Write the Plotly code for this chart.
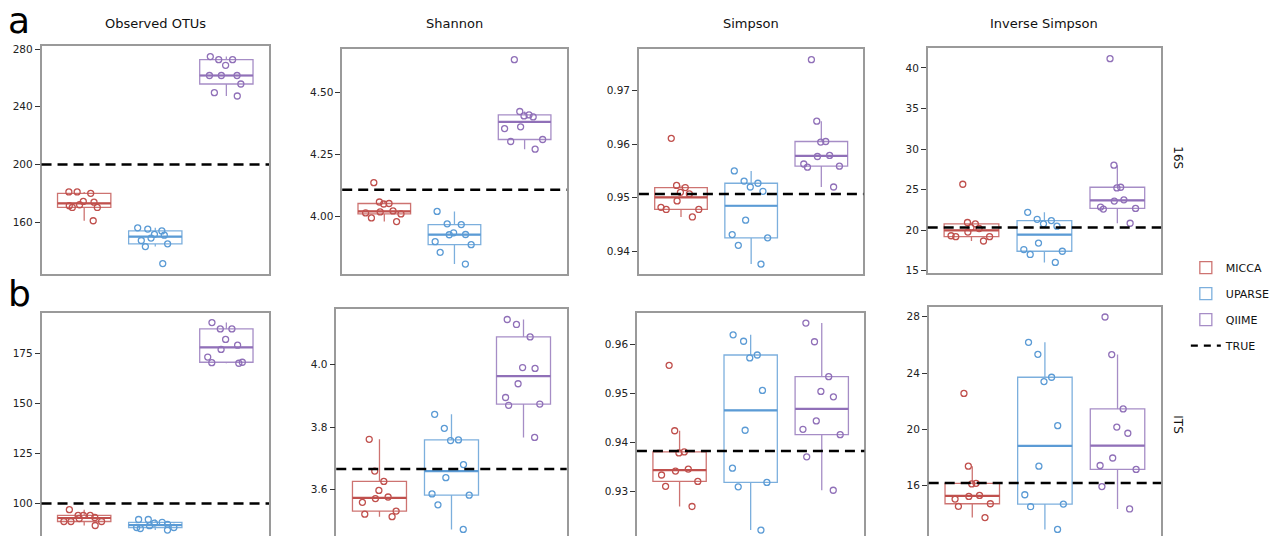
import numpy as np
import plotly.graph_objects as go

# ---------------- data ----------------
methods = ["MICCA", "UPARSE", "QIIME"]
metrics = ["Observed OTUs", "Shannon", "Simpson", "Inverse Simpson"]
regions = ["16S", "ITS"]

# 16S
obs16_micca = [181.0, 180.0, 181.0, 170.2, 172.1, 173.9, 174.4, 170.2, 171.4, 161.0]
obs16_uparse = [156.1, 155.2, 153.9, 151.6, 151.0, 149.0, 147.3, 145.0, 143.1, 131.3]
obs16_qiime = [272.7, 272.7, 274.8, 268.8, 261.7, 261.7, 261.7, 255.8, 249.8, 247.5]

sha16_micca = [4.053, 4.059, 4.051, 4.137, 3.995, 3.980, 4.023, 4.019, 4.015, 4.011]
sha16_uparse = [4.021, 3.968, 3.971, 3.935, 3.927, 3.928, 3.887, 3.899, 3.856, 3.809]
sha16_qiime = [4.633, 4.402, 4.406, 4.424, 4.410, 4.362, 4.355, 4.311, 4.272, 4.303]

sim16_micca = [0.9611, 0.9519, 0.9523, 0.9510, 0.9507, 0.9494, 0.9478, 0.9482, 0.9478, 0.9464]
sim16_uparse = [0.9550, 0.9520, 0.9527, 0.9531, 0.9512, 0.9458, 0.9425, 0.9431, 0.9411, 0.9376]
sim16_qiime = [0.9758, 0.9643, 0.9605, 0.9604, 0.9579, 0.9577, 0.9563, 0.9557, 0.9559, 0.9520]

inv16_micca = [25.66, 20.78, 20.94, 19.19, 19.19, 18.66, 19.76, 19.31, 20.30, 20.20]
inv16_uparse = [22.20, 20.78, 20.49, 21.18, 21.34, 18.41, 17.40, 17.61, 17.00, 16.02]
inv16_qiime = [41.15, 28.01, 25.21, 25.29, 23.74, 23.58, 22.85, 22.68, 22.60, 20.85]

# ITS
obsits_micca = [94.0, 94.0, 96.9, 94.0, 91.0, 91.0, 89.0, 91.0, 92.5, 93.0]
obsits_uparse = [88.0, 86.7, 88.0, 92.0, 90.6, 88.9, 90.2, 92.0, 87.5, 89.6]
obsits_qiime = [190.2, 187.0, 187.0, 181.8, 178.9, 176.8, 173.0, 169.9, 170.2, 170.4]

shaits_micca = [3.761, 3.659, 3.626, 3.597, 3.571, 3.576, 3.559, 3.521, 3.513, 3.531]
shaits_uparse = [3.841, 3.796, 3.759, 3.757, 3.680, 3.638, 3.586, 3.582, 3.551, 3.472]
shaits_qiime = [4.145, 4.129, 4.089, 3.991, 3.988, 3.939, 3.895, 3.874, 3.870, 3.767]

simits_micca = [0.9557, 0.9424, 0.9379, 0.9381, 0.9346, 0.9342, 0.9334, 0.9311, 0.9321, 0.9270]
simits_uparse = [0.9619, 0.9606, 0.9572, 0.9578, 0.9506, 0.9425, 0.9348, 0.9310, 0.9319, 0.9222]
simits_qiime = [0.9643, 0.9605, 0.9534, 0.9504, 0.9493, 0.9444, 0.9427, 0.9416, 0.9371, 0.9303]

invits_micca = [22.55, 17.38, 16.16, 16.12, 15.23, 15.30, 15.04, 14.71, 14.53, 13.73]
invits_uparse = [26.18, 25.33, 23.39, 23.70, 20.26, 17.38, 15.35, 14.69, 14.50, 12.89]
invits_qiime = [27.98, 25.31, 21.45, 20.16, 19.72, 17.96, 17.15, 17.43, 15.93, 14.34]

true_16s = [200, 4.108, 0.9507, 20.33]
true_its = [100, 3.666, 0.9383, 16.19]

ticks_16s = [[160, 200, 240, 280], [4.00, 4.25, 4.50], [0.94, 0.95, 0.96, 0.97], [15, 20, 25, 30, 35, 40]]
ticklabels_16s = [["160", "200", "240", "280"], ["4.00", "4.25", "4.50"],
                  ["0.94", "0.95", "0.96", "0.97"], ["15", "20", "25", "30", "35", "40"]]
ticks_its = [[100, 125, 150, 175], [3.6, 3.8, 4.0], [0.93, 0.94, 0.95, 0.96], [16, 20, 24, 28]]
ticklabels_its = [["100", "125", "150", "175"], ["3.6", "3.8", "4.0"],
                  ["0.93", "0.94", "0.95", "0.96"], ["16", "20", "24", "28"]]

data_16s = [
    [obs16_micca, obs16_uparse, obs16_qiime],
    [sha16_micca, sha16_uparse, sha16_qiime],
    [sim16_micca, sim16_uparse, sim16_qiime],
    [inv16_micca, inv16_uparse, inv16_qiime],
]
data_its = [
    [obsits_micca, obsits_uparse, obsits_qiime],
    [shaits_micca, shaits_uparse, shaits_qiime],
    [simits_micca, simits_uparse, simits_qiime],
    [invits_micca, invits_uparse, invits_qiime],
]

# ---------------- styling / layout ----------------
W, H = 1275, 539
colors = ["#C0504D", "#5B9BD5", "#9070B8"]
line_rgba = ["rgba(192,80,77,0.8)", "rgba(91,155,213,0.8)", "rgba(144,112,184,0.8)"]

# panel pixel boxes: (left, right, top, bottom)
panel_px = [
    (42, 272, 43, 274), (346, 573, 47, 274), (646, 873, 47, 274), (938, 1174, 46, 273),
    (42, 272, 313, 539), (340, 573, 309, 539), (644, 874, 313, 539), (939, 1174, 307, 539),
]
yranges = [
    [124.1, 282.5], [3.769, 4.674], [0.93575, 0.9777], [14.72, 42.4],
    [83.76, 195.2], [3.451, 4.18], [0.9210, 0.96644], [12.42, 28.72],
]
BOXW = 0.75

fig = go.Figure()
layout = {}
font_fam = "DejaVu Sans, Arial, sans-serif"

for p in range(8):
    row = p // 4
    col = p % 4
    ax = "" if p == 0 else str(p + 1)
    xref, yref = "x" + ax, "y" + ax
    l, r, t, b = panel_px[p]
    dom_x = [l / W, r / W]
    dom_y = [max(0.0, 1 - b / H), 1 - t / H]
    groups = (data_16s if row == 0 else data_its)[col]
    true_v = (true_16s if row == 0 else true_its)[col]
    tv = (ticks_16s if row == 0 else ticks_its)[col]
    tt = (ticklabels_16s if row == 0 else ticklabels_its)[col]

    for k, (m, vals) in enumerate(zip(methods, groups)):
        fig.add_trace(go.Box(
            y=vals, x0=k, width=BOXW, name=m, legendgroup=m, showlegend=(p == 0),
            boxpoints="all", jitter=0.9, pointpos=0, whiskerwidth=0,
            fillcolor="rgba(255,255,255,0)",
            line=dict(color=line_rgba[k], width=1.3),
            marker=dict(symbol="circle-open", size=6, color=colors[k],
                        line=dict(width=1.3, color=colors[k])),
            xaxis=xref, yaxis=yref, hoverinfo="y",
        ))
        med = float(np.median(vals))
        fig.add_trace(go.Scatter(
            x=[k - BOXW / 2, k + BOXW / 2], y=[med, med], mode="lines",
            line=dict(color=colors[k], width=2.2), showlegend=False,
            hoverinfo="skip", xaxis=xref, yaxis=yref,
        ))

    fig.add_shape(type="line", xref=xref + " domain", x0=0, x1=1, yref=yref,
                  y0=true_v, y1=true_v, layer="above",
                  line=dict(color="black", width=2.5, dash="10px,6px"))

    xa = dict(domain=dom_x, anchor=yref, range=[-0.6, 2.6], showticklabels=False,
              ticks="", showgrid=False, zeroline=False, showline=True,
              linecolor="#9a9a9a", linewidth=1.5, fixedrange=True)
    if row == 0:
        xa["mirror"] = True
    else:
        xa["side"] = "top"
        xa["mirror"] = False
    ya = dict(domain=dom_y, anchor=xref, range=yranges[p], tickvals=tv, ticktext=tt,
              ticks="outside", ticklen=5, tickwidth=1, tickcolor="#333",
              tickfont=dict(size=10.5, color="#222", family=font_fam),
              showgrid=False, zeroline=False, showline=True, mirror=True,
              linecolor="#9a9a9a", linewidth=1.5, fixedrange=True)
    layout["xaxis" + ax] = xa
    layout["yaxis" + ax] = ya

# legend entry for TRUE
fig.add_trace(go.Scatter(x=[None], y=[None], mode="lines", name="TRUE", legendgroup="TRUE",
                         line=dict(color="black", width=2.2, dash="7px,6px")))

annotations = []
for c, title in enumerate(metrics):
    l, r, t, b = panel_px[c]
    annotations.append(dict(text=title, x=(l + r) / 2 / W, y=1 - 20.5 / H, xref="paper",
                            yref="paper", showarrow=False, xanchor="center", yanchor="middle",
                            font=dict(size=13, color="#111", family=font_fam)))
annotations.append(dict(text="16S", x=1191 / W, y=1 - 157 / H, xref="paper", yref="paper",
                        showarrow=False, textangle=90, xanchor="center", yanchor="middle",
                        font=dict(size=12, color="#111", family=font_fam)))
annotations.append(dict(text="ITS", x=1191 / W, y=1 - 427 / H, xref="paper", yref="paper",
                        showarrow=False, textangle=90, xanchor="center", yanchor="middle",
                        font=dict(size=12, color="#111", family=font_fam)))
annotations.append(dict(text="a", x=19.5 / W, y=1 - 17.5 / H, xref="paper", yref="paper",
                        showarrow=False, xanchor="center", yanchor="middle",
                        font=dict(size=36, color="#000", family=font_fam)))
annotations.append(dict(text="b", x=19.5 / W, y=1 - 293.5 / H, xref="paper", yref="paper",
                        showarrow=False, xanchor="center", yanchor="middle",
                        font=dict(size=36, color="#000", family=font_fam)))

fig.update_layout(
    width=W, height=H, margin=dict(l=0, r=0, t=0, b=0),
    paper_bgcolor="white", plot_bgcolor="white",
    boxmode="overlay",
    showlegend=True,
    legend=dict(x=1199 / W, y=1 - 253 / H, xanchor="left", yanchor="top",
                font=dict(size=11, color="#111", family=font_fam),
                tracegroupgap=7, bgcolor="rgba(0,0,0,0)", traceorder="grouped"),
    annotations=annotations,
    **layout,
)

fig.write_html("out.html")
